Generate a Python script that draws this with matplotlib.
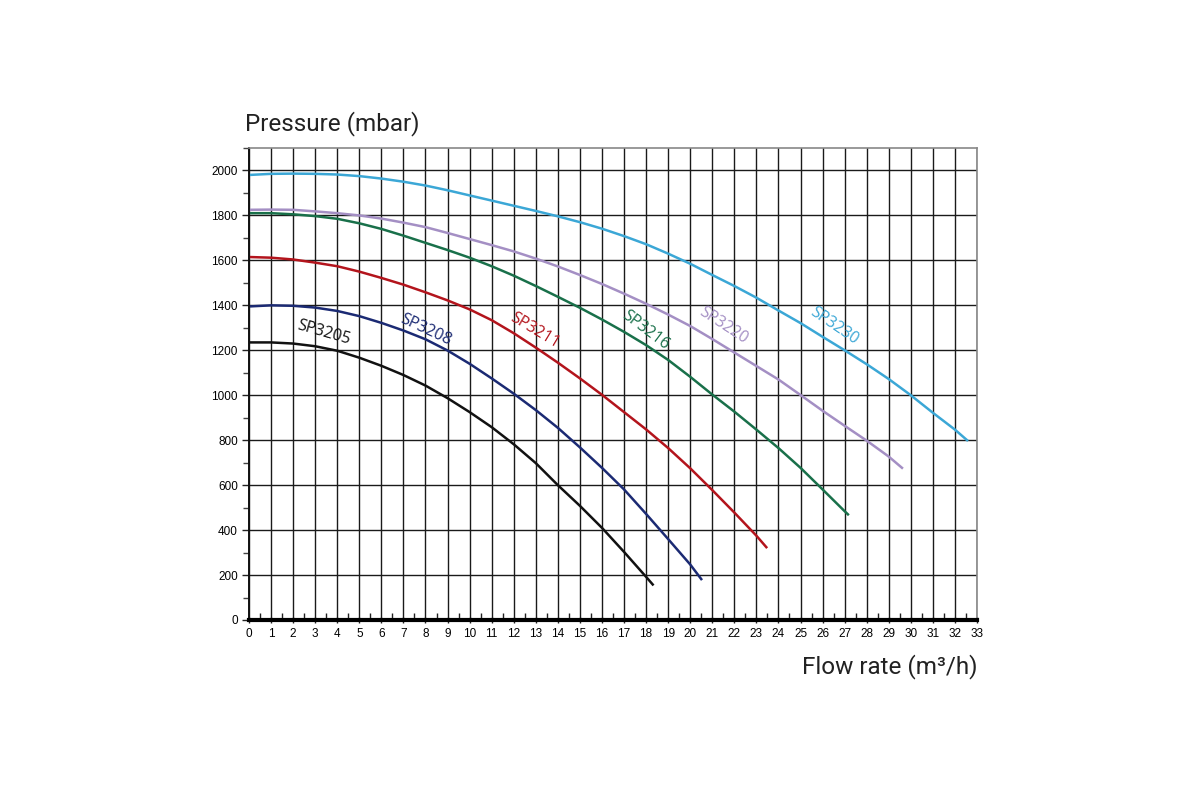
import matplotlib
matplotlib.use("Agg")
import matplotlib.pyplot as plt
from matplotlib.ticker import MultipleLocator

# pump curves: flow (m3/h) and pressure (mbar)
sp3205_x = [0, 1, 2, 3, 4, 5, 6, 7, 8, 9, 10, 11, 12, 13, 14, 15, 16, 17, 18, 18.3]
sp3205_y = [1235, 1235, 1230, 1218, 1198, 1167, 1131, 1090, 1043, 987, 925, 858,
            782, 698, 600, 508, 410, 303, 192, 158]

sp3208_x = [0, 1, 2, 3, 4, 5, 6, 7, 8, 9, 10, 11, 12, 13, 14, 15, 16, 17, 18, 19, 20, 20.5]
sp3208_y = [1395, 1400, 1398, 1390, 1375, 1352, 1322, 1288, 1249, 1199, 1140, 1075,
            1007, 934, 855, 768, 677, 581, 472, 360, 247, 182]

sp3211_x = list(range(0, 24)) + [23.45]
sp3211_y = [1615, 1612, 1604, 1590, 1574, 1550, 1522, 1492, 1458, 1422, 1382, 1334,
            1276, 1212, 1145, 1075, 1002, 925, 848, 765, 675, 578, 478, 375, 324]

sp3216_x = list(range(0, 28)) + [27.15]
sp3216_y = [1810, 1810, 1805, 1797, 1785, 1765, 1740, 1710, 1678, 1646, 1612, 1574,
            1532, 1486, 1438, 1389, 1337, 1282, 1223, 1157, 1082, 1003, 927, 847,
            765, 677, 581, 484, 470]

sp3220_x = list(range(0, 30)) + [29.6]
sp3220_y = [1825, 1826, 1825, 1818, 1810, 1800, 1786, 1768, 1748, 1722, 1695, 1668,
            1640, 1608, 1573, 1535, 1495, 1452, 1407, 1359, 1308, 1250, 1190, 1130,
            1070, 1001, 931, 864, 798, 727, 677]

sp3230_x = list(range(0, 33)) + [32.55]
sp3230_y = [1980, 1985, 1986, 1985, 1982, 1975, 1964, 1950, 1933, 1912, 1889, 1866,
            1843, 1820, 1796, 1770, 1741, 1708, 1672, 1630, 1585, 1535, 1486, 1434,
            1377, 1321, 1260, 1200, 1138, 1072, 1000, 922, 847, 800]

names = ["SP3205", "SP3208", "SP3211", "SP3216", "SP3220", "SP3230"]
colors = ["#111111", "#1b2a73", "#b3141c", "#19704a", "#a48fc4", "#3ba7d6"]
# label centre (x, y) and angle
label_x = [3.4, 8.0, 12.97, 17.96, 21.5, 26.53]
label_y = [1278, 1292, 1287, 1287, 1310, 1310]
label_rot = [-16, -25, -31, -37, -33, -34]

curves = [(sp3205_x, sp3205_y), (sp3208_x, sp3208_y), (sp3211_x, sp3211_y),
          (sp3216_x, sp3216_y), (sp3220_x, sp3220_y), (sp3230_x, sp3230_y)]

fig = plt.figure(figsize=(12, 8), dpi=100)
ax = fig.add_axes([249 / 1200, 180 / 800, 728 / 1200, 472 / 800])

ax.set_xlim(0, 33)
ax.set_ylim(0, 2100)
ax.xaxis.set_major_locator(MultipleLocator(1))
ax.xaxis.set_minor_locator(MultipleLocator(0.5))
ax.yaxis.set_major_locator(MultipleLocator(200))
ax.yaxis.set_minor_locator(MultipleLocator(100))

ax.grid(True, which="major", color="#1a1a1a", linewidth=1.0)
ax.set_axisbelow(True)

for (xs, ys), c in zip(curves, colors):
    ax.plot(xs, ys, color=c, linewidth=1.8, solid_joinstyle="round")

for n, c, lx, ly, r in zip(names, colors, label_x, label_y, label_rot):
    ax.text(lx, ly, n, color=c, fontsize=11.5, family="Open Sans",
            rotation=r, rotation_mode="anchor", ha="center", va="center")

for s in ["top", "right"]:
    ax.spines[s].set_color("#888888")
    ax.spines[s].set_linewidth(1.2)
ax.spines["left"].set_color("#111111")
ax.spines["left"].set_linewidth(1.4)
ax.spines["bottom"].set_color("#000000")
ax.spines["bottom"].set_linewidth(3.0)

ax.tick_params(axis="y", which="major", length=5, width=1, color="#222222",
               labelsize=8.5, pad=3)
ax.tick_params(axis="y", which="minor", length=4, width=1, color="#444444")
ax.tick_params(axis="x", which="major", length=4, width=1, direction="inout",
               color="#222222", labelsize=8.5, pad=4)
ax.tick_params(axis="x", which="minor", length=5, width=1, direction="in",
               color="#222222")
for lab in ax.get_xticklabels() + ax.get_yticklabels():
    lab.set_family("Liberation Sans")

fig.text(245 / 1200, 1 - 130 / 800, "Pressure (mbar)", fontsize=17.5,
         family="Roboto", color="#222222", va="baseline", ha="left")
fig.text(977 / 1200, 1 - 673 / 800, "Flow rate (m³/h)", fontsize=17.5,
         family="Roboto", color="#222222", va="baseline", ha="right")

fig.savefig("out.png", dpi=100)
